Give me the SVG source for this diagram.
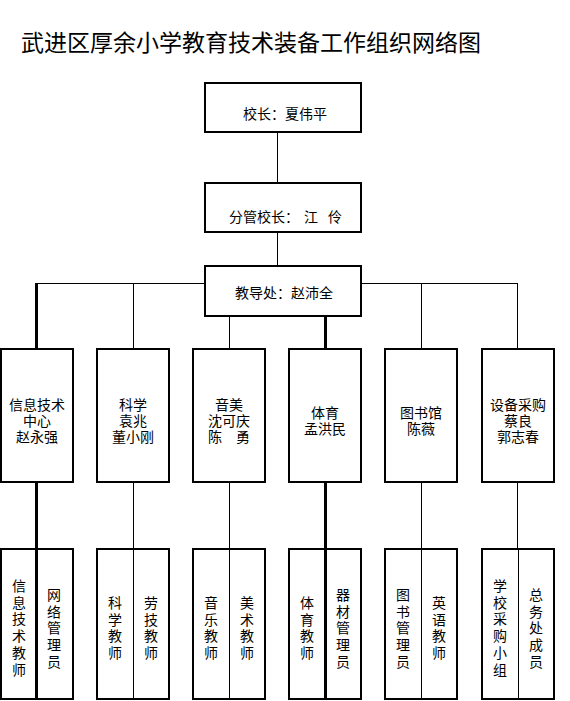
<svg xmlns="http://www.w3.org/2000/svg" width="570" height="701" viewBox="0 0 570 701">
<style>
text{font-family:"Noto Sans CJK SC","Noto Sans",sans-serif;fill:#000;font-size:14px}
.box{fill:#fff;stroke:#000;stroke-width:2}
.thin{stroke:#000;stroke-width:1;fill:none}
.thick{stroke:#000;stroke-width:3;fill:none}
.c{text-anchor:middle}
.title{font-size:23px}
</style>
<rect width="570" height="701" fill="#fff"/>
<text class="title" x="21" y="51">武进区厚余小学教育技术装备工作组织网络图</text>

<g id="connectors">
<line class="thin" x1="277.5" y1="132" x2="277.5" y2="183"/>
<line class="thin" x1="277.5" y1="232" x2="277.5" y2="266"/>
<line class="thin" x1="36" y1="283.5" x2="205" y2="283.5"/>
<line class="thin" x1="361" y1="283.5" x2="517.5" y2="283.5"/>
<line class="thick" x1="36.5" y1="283" x2="36.5" y2="349"/>
<line class="thin" x1="133.5" y1="283" x2="133.5" y2="349"/>
<line class="thin" x1="229.5" y1="316" x2="229.5" y2="349"/>
<line class="thick" x1="325.5" y1="316" x2="325.5" y2="349"/>
<line class="thin" x1="421.5" y1="283" x2="421.5" y2="349"/>
<line class="thin" x1="517.5" y1="283" x2="517.5" y2="349"/>
<line class="thick" x1="36.5" y1="482" x2="36.5" y2="549"/>
<line class="thin" x1="133.5" y1="482" x2="133.5" y2="549"/>
<line class="thin" x1="229.5" y1="482" x2="229.5" y2="549"/>
<line class="thick" x1="325.5" y1="482" x2="325.5" y2="549"/>
<line class="thin" x1="421.5" y1="482" x2="421.5" y2="549"/>
<line class="thin" x1="517.5" y1="482" x2="517.5" y2="549"/>
</g>

<g id="principal">
<rect class="box" x="205" y="83" width="156" height="49"/>
<text x="243" y="118.5">校长：夏伟平</text>
</g>
<g id="vice-principal">
<rect class="box" x="205" y="183" width="156" height="49"/>
<text y="222"><tspan x="229">分管校长：</tspan><tspan x="304">江</tspan><tspan x="328">伶</tspan></text>
</g>
<g id="academic-office">
<rect class="box" x="205" y="266" width="156" height="50"/>
<text x="235" y="298">教导处：赵沛全</text>
</g>

<g id="it-center">
<rect class="box" x="1" y="349" width="72" height="133"/>
<text class="c" x="37" y="410">信息技术</text>
<text class="c" x="37" y="426">中心</text>
<text class="c" x="37" y="442">赵永强</text>
</g>
<g id="science">
<rect class="box" x="97" y="349" width="72" height="133"/>
<text class="c" x="133" y="410">科学</text>
<text class="c" x="133" y="426">袁兆</text>
<text class="c" x="133" y="442">董小刚</text>
</g>
<g id="music-art">
<rect class="box" x="193" y="349" width="72" height="133"/>
<text class="c" x="229" y="410">音美</text>
<text class="c" x="229" y="426">沈可庆</text>
<text class="c" x="229" y="442">陈　勇</text>
</g>
<g id="pe">
<rect class="box" x="289" y="349" width="72" height="133"/>
<text class="c" x="325" y="418">体育</text>
<text class="c" x="325" y="434">孟洪民</text>
</g>
<g id="library">
<rect class="box" x="385" y="349" width="72" height="133"/>
<text class="c" x="421" y="418">图书馆</text>
<text class="c" x="421" y="434">陈薇</text>
</g>
<g id="procurement">
<rect class="box" x="482" y="349" width="72" height="133"/>
<text class="c" x="518" y="410">设备采购</text>
<text class="c" x="518" y="426">蔡良</text>
<text class="c" x="518" y="442">郭志春</text>
</g>

<g id="it-staff">
<rect class="box" x="1" y="549" width="72" height="150"/>
<line class="thick" x1="36.5" y1="549" x2="36.5" y2="699"/>
<text class="c" x="19" y="591"><tspan x="19">信</tspan><tspan x="19" dy="16.7">息</tspan><tspan x="19" dy="16.7">技</tspan><tspan x="19" dy="16.7">术</tspan><tspan x="19" dy="16.7">教</tspan><tspan x="19" dy="16.7">师</tspan></text>
<text class="c" x="54" y="600"><tspan x="54">网</tspan><tspan x="54" dy="16.7">络</tspan><tspan x="54" dy="16.7">管</tspan><tspan x="54" dy="16.7">理</tspan><tspan x="54" dy="16.7">员</tspan></text>
</g>
<g id="science-staff">
<rect class="box" x="97" y="549" width="72" height="150"/>
<line class="thin" x1="133.5" y1="549" x2="133.5" y2="699"/>
<text class="c" x="115" y="608"><tspan x="115">科</tspan><tspan x="115" dy="16.7">学</tspan><tspan x="115" dy="16.7">教</tspan><tspan x="115" dy="16.7">师</tspan></text>
<text class="c" x="151" y="608"><tspan x="151">劳</tspan><tspan x="151" dy="16.7">技</tspan><tspan x="151" dy="16.7">教</tspan><tspan x="151" dy="16.7">师</tspan></text>
</g>
<g id="music-art-staff">
<rect class="box" x="193" y="549" width="72" height="150"/>
<line class="thin" x1="229.5" y1="549" x2="229.5" y2="699"/>
<text class="c" x="211" y="608"><tspan x="211">音</tspan><tspan x="211" dy="16.7">乐</tspan><tspan x="211" dy="16.7">教</tspan><tspan x="211" dy="16.7">师</tspan></text>
<text class="c" x="247" y="608"><tspan x="247">美</tspan><tspan x="247" dy="16.7">术</tspan><tspan x="247" dy="16.7">教</tspan><tspan x="247" dy="16.7">师</tspan></text>
</g>
<g id="pe-staff">
<rect class="box" x="289" y="549" width="72" height="150"/>
<line class="thick" x1="325.5" y1="549" x2="325.5" y2="699"/>
<text class="c" x="307" y="608"><tspan x="307">体</tspan><tspan x="307" dy="16.7">育</tspan><tspan x="307" dy="16.7">教</tspan><tspan x="307" dy="16.7">师</tspan></text>
<text class="c" x="343" y="600"><tspan x="343">器</tspan><tspan x="343" dy="16.7">材</tspan><tspan x="343" dy="16.7">管</tspan><tspan x="343" dy="16.7">理</tspan><tspan x="343" dy="16.7">员</tspan></text>
</g>
<g id="library-staff">
<rect class="box" x="385" y="549" width="72" height="150"/>
<line class="thin" x1="421.5" y1="549" x2="421.5" y2="699"/>
<text class="c" x="403" y="600"><tspan x="403">图</tspan><tspan x="403" dy="16.7">书</tspan><tspan x="403" dy="16.7">管</tspan><tspan x="403" dy="16.7">理</tspan><tspan x="403" dy="16.7">员</tspan></text>
<text class="c" x="439" y="608"><tspan x="439">英</tspan><tspan x="439" dy="16.7">语</tspan><tspan x="439" dy="16.7">教</tspan><tspan x="439" dy="16.7">师</tspan></text>
</g>
<g id="procurement-staff">
<rect class="box" x="482" y="549" width="72" height="150"/>
<line class="thin" x1="518.5" y1="549" x2="518.5" y2="699"/>
<text class="c" x="500" y="591"><tspan x="500">学</tspan><tspan x="500" dy="16.7">校</tspan><tspan x="500" dy="16.7">采</tspan><tspan x="500" dy="16.7">购</tspan><tspan x="500" dy="16.7">小</tspan><tspan x="500" dy="16.7">组</tspan></text>
<text class="c" x="536" y="600"><tspan x="536">总</tspan><tspan x="536" dy="16.7">务</tspan><tspan x="536" dy="16.7">处</tspan><tspan x="536" dy="16.7">成</tspan><tspan x="536" dy="16.7">员</tspan></text>
</g>
</svg>
